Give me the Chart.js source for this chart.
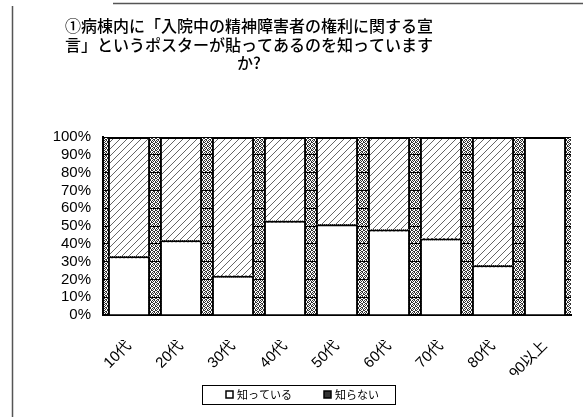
<!DOCTYPE html>
<html lang="ja">
<head>
<meta charset="utf-8">
<title>ポスターの認知度</title>
<script src="https://cdn.jsdelivr.net/npm/chart.js@4.4.1/dist/chart.umd.min.js"></script>
<style>
  html, body { margin: 0; padding: 0; background: #fff; }
  #wrap { position: relative; width: 583px; height: 417px; }
  canvas { display: block; }
</style>
</head>
<body>
<div id="wrap"><canvas id="chart" width="583" height="417"></canvas></div>
<script>
// Age groups and answer shares (%)
const categories = ['10代', '20代', '30代', '40代', '50代', '60代', '70代', '80代', '90以上'];
const knowValues = [33, 42, 22, 53, 51, 48, 43, 28, 100];
const notKnowValues = [67, 58, 78, 47, 49, 52, 57, 72, 0];
const seriesNames = ['知っている', '知らない'];
const titleLines = [
  '①病棟内に「入院中の精神障害者の権利に関する宣',
  '言」というポスターが貼ってあるのを知っています',
  'か?'
];

// Fill patterns
function makeHatch() {
  const c = document.createElement('canvas');
  c.width = 7; c.height = 7;
  const g = c.getContext('2d');
  g.fillStyle = '#fff';
  g.fillRect(0, 0, 7, 7);
  g.strokeStyle = '#555';
  g.lineWidth = 0.9;
  g.beginPath();
  g.moveTo(-1, 8); g.lineTo(8, -1);
  g.moveTo(-1, 1); g.lineTo(1, -1);
  g.moveTo(6, 8); g.lineTo(8, 6);
  g.stroke();
  return g.createPattern(c, 'repeat');
}
function makeDots() {
  const c = document.createElement('canvas');
  c.width = 4; c.height = 4;
  const g = c.getContext('2d');
  g.fillStyle = '#fff';
  g.fillRect(0, 0, 4, 4);
  g.fillStyle = '#333';
  const px = [[0,0],[2,0],[1,1],[3,1],[0,2],[3,2],[1,3],[2,3]];
  px.forEach(([x, y]) => g.fillRect(x, y, 1, 1));
  return g.createPattern(c, 'repeat');
}

const ctx = document.getElementById('chart').getContext('2d');
const hatch = makeHatch();
const dots = makeDots();

const decor = {
  id: 'decor',
  beforeDraw(chart) {
    const c = chart.ctx, a = chart.chartArea;
    c.save();
    c.fillStyle = '#fff';
    c.fillRect(0, 0, chart.width, chart.height);
    c.fillStyle = dots;
    c.fillRect(a.left, a.top, a.right - a.left, a.bottom - a.top);
    c.restore();
  },
  afterDraw(chart) {
    const c = chart.ctx;
    c.save();
    // outer frame fragments
    c.strokeStyle = '#555';
    c.lineWidth = 1.5;
    c.beginPath();
    c.moveTo(12.5, 6); c.lineTo(12.5, 417);
    c.moveTo(113, 3.5); c.lineTo(583, 3.5);
    c.stroke();
    // title
    c.fillStyle = '#000';
    c.font = '500 16px "Noto Sans CJK JP"';
    c.textAlign = 'center';
    c.textBaseline = 'middle';
    const ys = [26, 45, 63];
    titleLines.forEach((t, i) => c.fillText(t, 249, ys[i]));
    // legend
    c.strokeStyle = '#000';
    c.lineWidth = 1;
    c.strokeRect(202.5, 385.5, 193, 19);
    c.font = '11px "Noto Sans CJK JP"';
    c.textAlign = 'left';
    const items = [
      { x: 226, fill: '#fff' },
      { x: 324, fill: '#333' }
    ];
    items.forEach((it, i) => {
      c.fillStyle = it.fill;
      c.fillRect(it.x, 391, 7, 7);
      c.lineWidth = 1.5;
      c.strokeRect(it.x, 391, 7, 7);
      c.fillStyle = '#000';
      c.fillText(seriesNames[i], it.x + 11, 395);
    });
    c.restore();
  }
};

new Chart(ctx, {
  type: 'bar',
  data: {
    labels: categories,
    datasets: [
      {
        label: seriesNames[0],
        data: knowValues,
        backgroundColor: '#fff',
        borderColor: '#000',
        borderWidth: 2
      },
      {
        label: seriesNames[1],
        data: notKnowValues,
        backgroundColor: hatch,
        borderColor: '#000',
        borderWidth: 2
      }
    ]
  },
  options: {
    responsive: false,
    animation: false,
    layout: { padding: { left: 0, right: 12, top: 137, bottom: 42 } },
    datasets: { bar: { categoryPercentage: 1, barPercentage: 0.81 } },
    plugins: {
      legend: { display: false },
      title: { display: false },
      tooltip: { enabled: false }
    },
    scales: {
      x: {
        stacked: true,
        afterFit(s) { s.height = 60; },
        grid: { display: false },
        border: { display: true, color: '#000', width: 2 },
        ticks: {
          color: '#000',
          minRotation: 45,
          maxRotation: 45,
          padding: 14,
          font: { family: '"Liberation Sans", "Noto Sans CJK JP"', size: 15 }
        }
      },
      y: {
        stacked: true,
        min: 0,
        max: 100,
        afterFit(s) { s.width = 103; },
        grid: { color: '#000', lineWidth: 1, drawTicks: false },
        border: { display: true, color: '#000', width: 2 },
        ticks: {
          stepSize: 10,
          autoSkip: false,
          color: '#000',
          padding: 12,
          font: { family: '"Liberation Sans", sans-serif', size: 15 },
          callback: v => v + '%'
        }
      }
    }
  },
  plugins: [decor]
});
</script>
</body>
</html>
